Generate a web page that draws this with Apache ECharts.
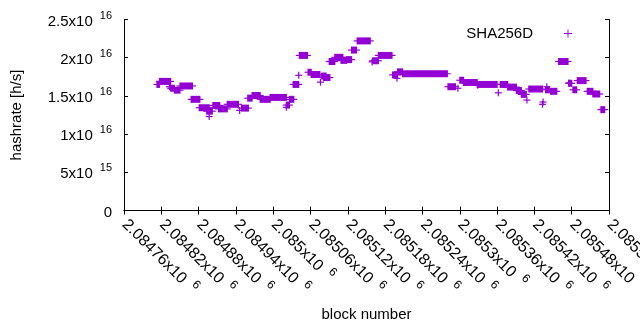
<!DOCTYPE html>
<html>
<head>
<meta charset="utf-8">
<script src="https://cdn.jsdelivr.net/npm/echarts@6/dist/echarts.min.js"></script>
<style>
  html, body { margin: 0; padding: 0; background: #fff; }
  #chart { width: 640px; height: 330px; }
</style>
</head>
<body>
<div id="chart"></div>
<script>
// runs of consecutive blocks sharing the same hashrate estimate (a single point when start == end)
const runStart = [
  2084813, 2084817, 2084833, 2084835, 2084841, 2084850, 2084868, 2084881, 2084893, 2084897,
  2084903, 2084912, 2084926, 2084946, 2084949, 2084959, 2084966, 2084979, 2084995, 2085021,
  2085021, 2085026, 2085032, 2085041, 2085042, 2085056, 2085061, 2085076, 2085078, 2085081,
  2085090, 2085099, 2085109, 2085118, 2085126, 2085135, 2085159, 2085160, 2085169, 2085192,
  2085199, 2085200, 2085208, 2085281, 2085297, 2085300, 2085306, 2085329, 2085328, 2085362,
  2085365, 2085377, 2085391, 2085399, 2085408, 2085411, 2085433, 2085434, 2085440, 2085438,
  2085446, 2085459, 2085476, 2085475, 2085482, 2085489, 2085505, 2085514, 2085527
];
const runEnd = [
  2084817, 2084835, 2084833, 2084841, 2084850, 2084870, 2084882, 2084897, 2084902, 2084897,
  2084914, 2084926, 2084944, 2084946, 2084960, 2084966, 2084979, 2084995, 2085021, 2085021,
  2085026, 2085033, 2085041, 2085041, 2085055, 2085061, 2085075, 2085076, 2085085, 2085091,
  2085099, 2085112, 2085118, 2085126, 2085134, 2085156, 2085159, 2085169, 2085191, 2085200,
  2085199, 2085208, 2085280, 2085293, 2085297, 2085306, 2085328, 2085329, 2085360, 2085362,
  2085377, 2085391, 2085399, 2085407, 2085408, 2085433, 2085433, 2085434, 2085440, 2085444,
  2085456, 2085474, 2085476, 2085480, 2085488, 2085503, 2085514, 2085525, 2085533
];
const runValue = [
  1.65, 1.69, 1.62, 1.60, 1.575, 1.63, 1.455, 1.345, 1.30, 1.23,
  1.375, 1.33, 1.39, 1.31, 1.34, 1.47, 1.505, 1.455, 1.48, 1.35,
  1.38, 1.455, 1.65, 1.77, 2.03, 1.81, 1.78, 1.68, 1.76, 1.74,
  1.95, 2.005, 1.965, 1.975, 2.10, 2.22, 1.945, 1.96, 2.03, 1.775,
  1.73, 1.815, 1.79, 1.62, 1.60, 1.705, 1.675, 1.64, 1.65, 1.54,
  1.65, 1.615, 1.57, 1.52, 1.445, 1.59, 1.39, 1.42, 1.62, 1.58,
  1.56, 1.95, 1.67, 1.665, 1.58, 1.70, 1.56, 1.525, 1.32
].map(v => v * 1e16);

const seriesName = 'SHA256D';
const color = '#9400d3';
const font = "'Liberation Sans', Arial, sans-serif";

const data = runStart.map((s, i) => [s, runEnd[i], runValue[i]]);

function xLabel(v) {
  const m = parseFloat((v / 1e6).toFixed(5));
  return '{m|' + m + 'x10}{e|6}';
}
function yLabel(v) {
  if (v === 0) return '{m|0}';
  const e = Math.floor(Math.log10(v) + 1e-9);
  const m = parseFloat((v / Math.pow(10, e)).toFixed(2));
  return '{m|' + m + 'x10}{e|' + e + '}';
}
const yRich = {
  m: { fontSize: 15, fontFamily: font, color: '#000', lineHeight: 19, verticalAlign: 'bottom' },
  e: { fontSize: 11, fontFamily: font, color: '#000', lineHeight: 19, verticalAlign: 'top', padding: [0, 0, 0, 7] }
};
const xRich = {
  m: { fontSize: 16, fontFamily: font, color: '#000', lineHeight: 20, verticalAlign: 'bottom', padding: [0, 0, 0, 3] },
  e: { fontSize: 12, fontFamily: font, color: '#000', lineHeight: 20, verticalAlign: 'top', padding: [0, 0, 0, 8] }
};

const chart = echarts.init(document.getElementById('chart'));

const tick = { show: true, inside: true, length: 4, lineStyle: { color: '#000', width: 1 } };
const line = { show: true, lineStyle: { color: '#000', width: 1 } };

chart.setOption({
  animation: false,
  textStyle: { fontFamily: font },
  grid: { left: 124, right: 31, top: 19.5, bottom: 119.5, containLabel: false, outerBoundsMode: 'none' },
  legend: {
    data: [{ name: seriesName, icon: 'path://M0,4.4H10V5.6H0Z M4.4,0H5.6V10H4.4Z' }],
    right: 63, top: 21,
    align: 'right',
    itemWidth: 8, itemHeight: 8,
    textStyle: { fontSize: 15, color: '#000', fontFamily: font, padding: [0, 26, 0, 0] }
  },
  xAxis: [
    {
      type: 'value', min: 2084760, max: 2085540, interval: 60,
      name: 'block number', nameLocation: 'middle', nameGap: 97,
      nameTextStyle: { fontSize: 15, color: '#000', fontFamily: font },
      axisLine: line, axisTick: tick, splitLine: { show: false },
      axisLabel: { rotate: -45, margin: 8, formatter: xLabel, rich: xRich, showMinLabel: true, showMaxLabel: true }
    },
    {
      type: 'value', position: 'top', min: 2084760, max: 2085540, interval: 60,
      axisLine: line, axisTick: tick, splitLine: { show: false }, axisLabel: { show: false }
    }
  ],
  yAxis: [
    {
      type: 'value', min: 0, max: 2.5e16, interval: 5e15,
      name: 'hashrate [h/s]', nameLocation: 'middle', nameGap: 100,
      nameTextStyle: { fontSize: 15, color: '#000', fontFamily: font },
      axisLine: line, axisTick: tick, splitLine: { show: false },
      axisLabel: { margin: 12, formatter: yLabel, rich: yRich }
    },
    {
      type: 'value', position: 'right', min: 0, max: 2.5e16, interval: 5e15,
      axisLine: line, axisTick: tick, splitLine: { show: false }, axisLabel: { show: false }
    }
  ],
  series: [{
    name: seriesName,
    type: 'custom',
    xAxisIndex: 0, yAxisIndex: 0,
    itemStyle: { color: color },
    encode: { x: [0, 1], y: 2 },
    data: data,
    renderItem: (params, api) => {
      // a run of '+' points: arms overlap into a solid block
      const a = api.coord([api.value(0), api.value(2)]);
      const b = api.coord([api.value(1), api.value(2)]);
      const h = 3.5;
      return {
        type: 'group',
        children: [
          { type: 'rect', shape: { x: a[0] - 0.6, y: a[1] - h, width: b[0] - a[0] + 1.2, height: 2 * h }, style: { fill: color } },
          { type: 'line', shape: { x1: a[0] - h, y1: a[1], x2: b[0] + h, y2: a[1] }, style: { stroke: color, lineWidth: 1.2 } }
        ]
      };
    }
  }]
});
</script>
</body>
</html>
